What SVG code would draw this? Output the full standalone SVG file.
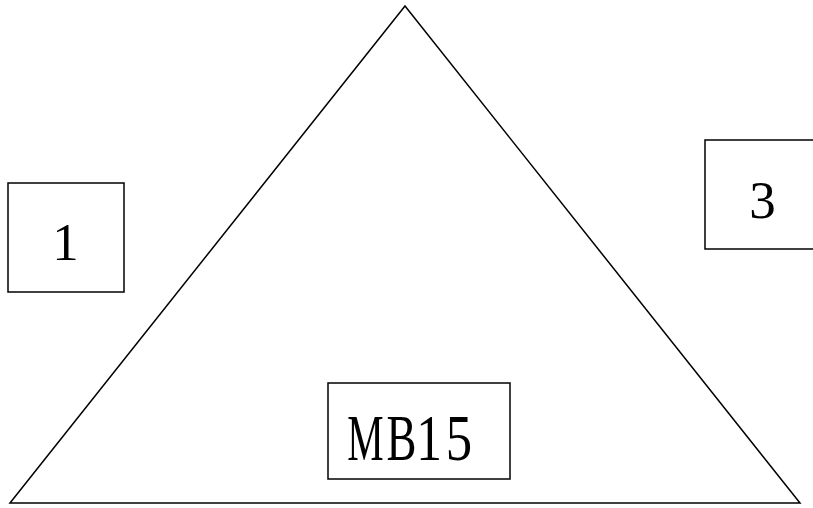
<svg xmlns="http://www.w3.org/2000/svg" width="813" height="508" viewBox="0 0 813 508">
<style>
.s{fill:none;stroke:#000;stroke-width:1.5}
.b{fill:#fff;stroke:#000;stroke-width:1.5}
.t{font-family:"Liberation Serif",serif;fill:#000;text-anchor:middle}
.m{font-family:"Liberation Serif",serif;fill:#000;text-anchor:middle;font-size:66px}
</style>
<rect width="813" height="508" fill="#fff"/>
<g id="triangle"><polygon class="s" points="10,503 405,6 800,503"/></g>
<g id="connectors"></g>
<g id="node1"><rect class="b" x="8" y="183" width="116" height="109"/><text class="t" x="65.5" y="260" font-size="53">1</text></g>
<g id="node3"><rect class="b" x="705" y="140" width="112" height="109"/><text class="t" x="762.5" y="218" font-size="53">3</text></g>
<g id="nodeMB15"><rect class="b" x="328" y="383" width="182" height="96"/>
<text class="m" transform="translate(365.5,460) scale(0.62,1)">M</text>
<text class="m" transform="translate(401.5,460) scale(0.68,1)">B</text>
<text class="m" transform="translate(429,460) scale(0.78,1)">1</text>
<text class="m" transform="translate(459,460) scale(0.8,1)">5</text>
</g>
</svg>
